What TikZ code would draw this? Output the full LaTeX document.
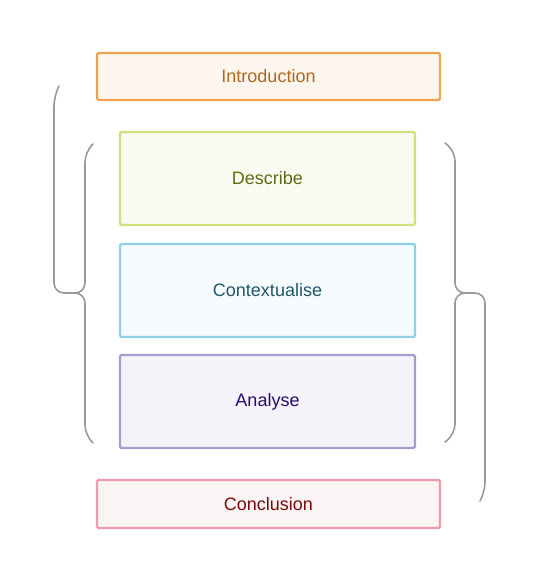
\documentclass[tikz,border=0pt]{standalone}
\usepackage{fontspec}
\setmainfont{Liberation Sans}
\definecolor{introD}{HTML}{F0A24C}
\definecolor{introF}{HTML}{FDF6EE}
\definecolor{introT}{HTML}{B0681E}
\definecolor{descD}{HTML}{D0E07C}
\definecolor{descF}{HTML}{F9FAF0}
\definecolor{descT}{HTML}{5C6E14}
\definecolor{contD}{HTML}{90D0EA}
\definecolor{contF}{HTML}{F5FBFE}
\definecolor{contT}{HTML}{1F5868}
\definecolor{anaD}{HTML}{A29ED0}
\definecolor{anaF}{HTML}{F4F3F9}
\definecolor{anaT}{HTML}{2A0A6E}
\definecolor{concD}{HTML}{EE9AAA}
\definecolor{concF}{HTML}{FBF4F5}
\definecolor{concT}{HTML}{7A0A0A}
\definecolor{braceC}{HTML}{999999}
\begin{document}
\begin{tikzpicture}[x=1pt,y=-1pt,
  box/.style={draw, line width=2.4pt, rounded corners=1.5pt, inner sep=0pt,
    font=\fontsize{18}{21}\selectfont},
  bracepath/.style={draw=braceC, line width=1.6pt, line cap=round, rounded corners=10pt}]
\useasboundingbox (0,0) rectangle (540,580);
\node[box, draw=introD, fill=introF, text=introT, minimum width=343pt, minimum height=47pt] (intro) at (268.5,76.5) {Introduction};
\node[box, draw=descD, fill=descF, text=descT, minimum width=295pt, minimum height=93pt] (desc) at (267.5,178.5) {Describe};
\node[box, draw=contD, fill=contF, text=contT, minimum width=295pt, minimum height=93pt] (cont) at (267.5,290.5) {Contextualise};
\node[box, draw=anaD, fill=anaF, text=anaT, minimum width=295pt, minimum height=93pt] (ana) at (267.5,401.5) {Analyse};
\node[box, draw=concD, fill=concF, text=concT, minimum width=343pt, minimum height=48pt] (conc) at (268.5,504) {Conclusion};
% left outer brace (top part)
\draw[bracepath] (59,86) -- (54,96) -- (54,293) -- (77,293);
% left inner brace
\draw[bracepath] (93,144) -- (85,152) -- (85,293) -- (77,293);
\draw[bracepath] (77,293) -- (85,293) -- (85,435) -- (93,443);
% right inner brace
\draw[bracepath] (445,143) -- (455,151) -- (455,293) -- (463,293);
\draw[bracepath] (463,293) -- (455,293) -- (455,434) -- (445,442);
% right outer brace (bottom part)
\draw[bracepath] (463,293) -- (485,293) -- (485,492) -- (480,501);
\end{tikzpicture}
\end{document}
